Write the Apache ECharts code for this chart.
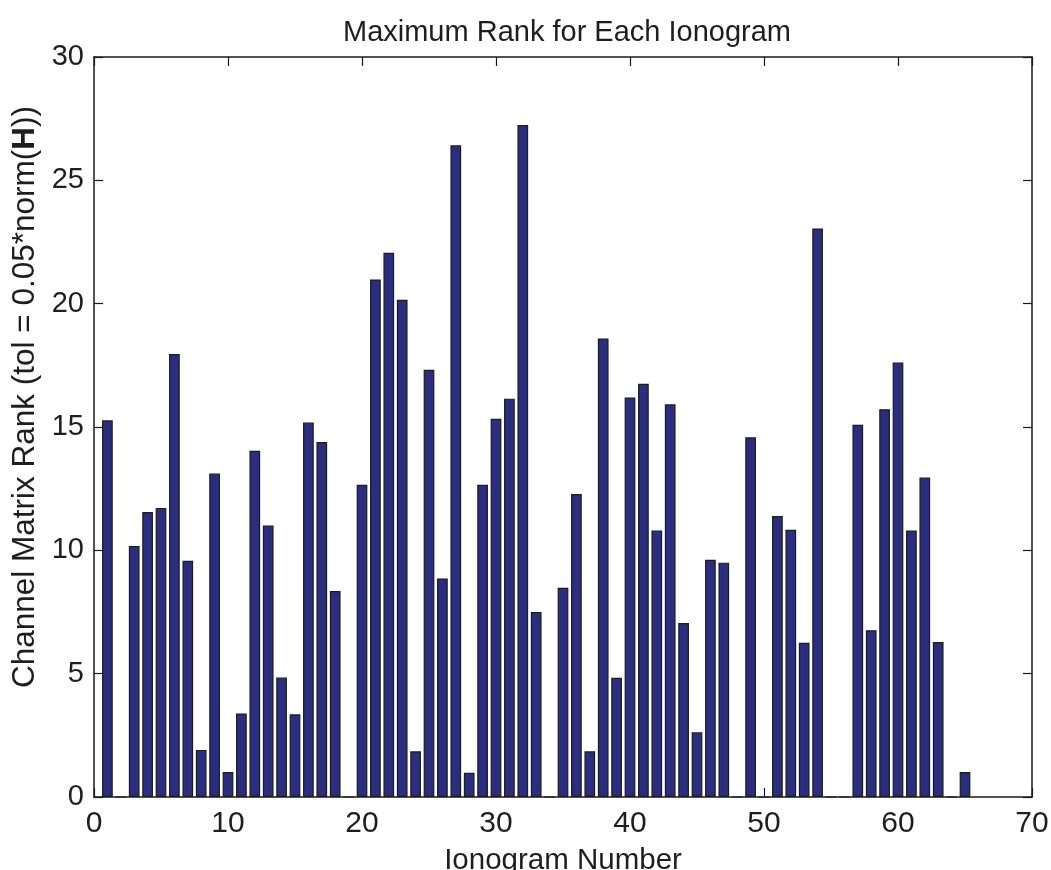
<!DOCTYPE html>
<html>
<head>
<meta charset="utf-8">
<script src="https://cdn.jsdelivr.net/npm/echarts@6/dist/echarts.min.js"></script>
<style>
  html, body { margin: 0; padding: 0; background: #ffffff; }
  #chart { width: 1051px; height: 870px; }
</style>
</head>
<body>
<div id="chart"></div>
<script>
// ---- data ----
var ionogramNumbers = [1, 2, 3, 4, 5, 6, 7, 8, 9, 10,
  11, 12, 13, 14, 15, 16, 17, 18, 19, 20,
  21, 22, 23, 24, 25, 26, 27, 28, 29, 30,
  31, 32, 33, 34, 35, 36, 37, 38, 39, 40,
  41, 42, 43, 44, 45, 46, 47, 48, 49, 50,
  51, 52, 53, 54, 55, 56, 57, 58, 59, 60,
  61, 62, 63, 64, 65];
var maxRank = [15.27, 0, 10.18, 11.55, 11.72, 17.96, 9.58, 1.91, 13.11, 1.01,
  3.39, 14.04, 11.01, 4.84, 3.35, 15.18, 14.39, 8.35, 0, 12.66,
  20.98, 22.06, 20.16, 1.85, 17.32, 8.86, 26.42, 0.98, 12.66, 15.33,
  16.15, 27.24, 7.50, 0, 8.48, 12.28, 1.85, 18.59, 4.83, 16.20,
  16.75, 10.80, 15.92, 7.05, 2.62, 9.62, 9.50, 0, 14.58, 0,
  11.39, 10.83, 6.25, 23.05, 0, 0, 15.09, 6.76, 15.72, 17.61,
  10.80, 12.95, 6.28, 0, 1.01];
var xTickLabels = [0, 10, 20, 30, 40, 50, 60, 70];
var yTickLabels = [0, 5, 10, 15, 20, 25, 30];
var titleText = 'Maximum Rank for Each Ionogram';
var xName = 'Ionogram Number';
var yNameParts = ['Channel Matrix Rank (tol = 0.05*norm(', 'H', '))'];

// ---- chart ----
var FONT = '"Liberation Sans", Arial, Helvetica, sans-serif';
var TXT = '#1e1e1e';
var AX = '#1a1a1a';

var seriesData = ionogramNumbers.map(function (n, i) { return [n, maxRank[i]]; });

function axisCommon(extra) {
  var base = {
    type: 'value',
    axisLine: { show: true, onZero: false, lineStyle: { color: AX, width: 1.5 } },
    axisTick: { show: true, inside: true, length: 9, lineStyle: { color: AX, width: 1.2 } },
    splitLine: { show: false }
  };
  for (var k in extra) base[k] = extra[k];
  return base;
}

var xMin = xTickLabels[0], xMax = xTickLabels[xTickLabels.length - 1];
var xInt = xTickLabels[1] - xTickLabels[0];
var yMin = yTickLabels[0], yMax = yTickLabels[yTickLabels.length - 1];
var yInt = yTickLabels[1] - yTickLabels[0];

var option = {
  backgroundColor: '#ffffff',
  animation: false,
  title: {
    text: titleText,
    left: 562,
    textAlign: 'center',
    top: 13,
    textStyle: { fontFamily: FONT, fontSize: 29, fontWeight: 'normal', color: TXT }
  },
  grid: { left: 94, right: 19, top: 57, bottom: 73, containLabel: false, outerBoundsMode: 'none' },
  xAxis: [
    axisCommon({
      position: 'bottom', min: xMin, max: xMax, interval: xInt,
      name: xName, nameLocation: 'middle', nameGap: 49,
      nameTextStyle: { fontFamily: FONT, fontSize: 29.5, color: TXT },
      axisLabel: { show: true, margin: 12, fontFamily: FONT, fontSize: 30, color: TXT }
    }),
    axisCommon({
      position: 'top', min: xMin, max: xMax, interval: xInt,
      axisLabel: { show: false }
    })
  ],
  yAxis: [
    axisCommon({
      position: 'left', min: yMin, max: yMax, interval: yInt,
      name: '{n|' + yNameParts[0] + '}{b|' + yNameParts[1] + '}{n|' + yNameParts[2] + '}',
      nameLocation: 'middle', nameGap: 53, nameRotate: 90,
      nameTextStyle: {
        fontFamily: FONT, fontSize: 31.5, color: TXT,
        padding: [0, 0, 0, 60],
        rich: {
          n: { fontFamily: FONT, fontSize: 31.5, color: TXT },
          b: { fontFamily: FONT, fontSize: 31.5, color: TXT, fontWeight: 'bold' }
        }
      },
      axisLabel: { show: true, margin: 10, fontFamily: FONT, fontSize: 29, color: TXT }
    }),
    axisCommon({
      position: 'right', min: yMin, max: yMax, interval: yInt,
      axisLabel: { show: false }
    })
  ],
  series: [{
    type: 'bar',
    xAxisIndex: 0,
    yAxisIndex: 0,
    data: seriesData,
    barWidth: 10.7,
    itemStyle: { color: '#2b2d7f', borderColor: '#1b1b22', borderWidth: 1.2 },
    emphasis: { disabled: true }
  }]
};

var chart = echarts.init(document.getElementById('chart'), null, { renderer: 'canvas' });
chart.setOption(option);
</script>
</body>
</html>
